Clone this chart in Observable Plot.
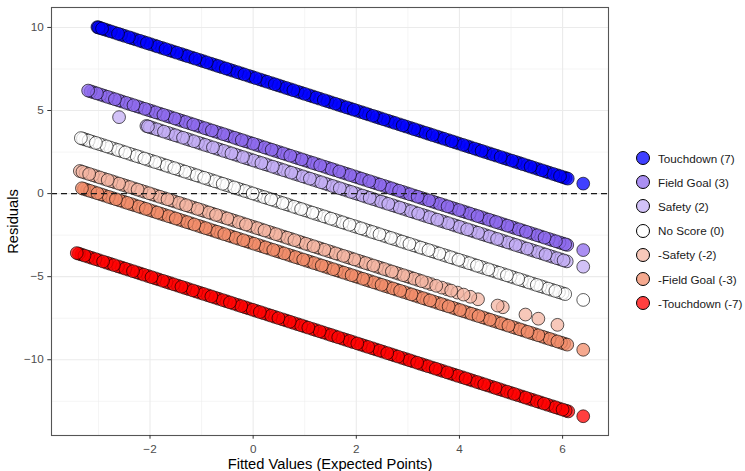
<!DOCTYPE html>
<html>
<head>
<meta charset="utf-8">
<script src="https://cdn.jsdelivr.net/npm/d3@7"></script>
<script src="https://cdn.jsdelivr.net/npm/@observablehq/plot@0.6"></script>
<style>
  html, body { margin: 0; padding: 0; background: white; }
  #wrap { position: relative; width: 745px; height: 471px; overflow: hidden; font-family: "Liberation Sans", Arial, sans-serif; }
  #chart { position: absolute; left: 0; top: 0; }
  #legend { position: absolute; left: 636px; top: 146px; }
  .item { display: flex; align-items: center; height: 24.2px; font-size: 11.7px; color: #1a1a1a; }
  .sw { width: 12px; height: 12px; border-radius: 50%; border: 1px solid #000; margin-right: 8px; box-sizing: content-box; }
</style>
</head>
<body>
<div id="wrap"><div id="chart"></div><div id="legend"></div></div>
<script>
// Outcome categories, their point values and colours
const categories = ["Touchdown (7)", "Field Goal (3)", "Safety (2)", "No Score (0)", "-Safety (-2)", "-Field Goal (-3)", "-Touchdown (-7)"];
const scores = [7, 3, 2, 0, -2, -3, -7];
const colors = ["#0000FF", "#8D69EE", "#C3ADF4", "#FFFFFF", "#F4B5A3", "#F18C69", "#FF0000"];

// Fitted values (expected points), one array per outcome
const fittedTouchdown = [-3.02,-3.00,-2.97,-2.93,-2.88,-2.82,-2.76,-2.69,-2.62,-2.56,-2.49,-2.41,-2.35,-2.28,-2.20,-2.13,-2.06,-1.99,-1.91,-1.85,-1.77,-1.70,-1.62,-1.55,-1.48,-1.40,-1.33,-1.27,-1.19,-1.12,-1.04,-0.97,-0.90,-0.82,-0.75,-0.68,-0.61,-0.53,-0.46,-0.39,-0.31,-0.24,-0.17,-0.09,-0.02,0.05,0.13,0.20,0.27,0.35,0.42,0.49,0.56,0.64,0.71,0.78,0.86,0.93,1.00,1.08,1.15,1.22,1.29,1.37,1.44,1.51,1.59,1.66,1.73,1.81,1.88,1.95,2.02,2.10,2.17,2.24,2.32,2.39,2.46,2.53,2.61,2.68,2.75,2.83,2.90,2.97,3.05,3.12,3.19,3.26,3.34,3.41,3.48,3.56,3.63,3.70,3.78,3.85,3.92,3.99,4.07,4.14,4.21,4.29,4.36,4.43,4.50,4.58,4.65,4.72,4.80,4.87,4.94,5.02,5.09,5.16,5.23,5.31,5.38,5.45,5.53,5.60,5.67,5.74,5.82,5.89,5.95,6.01,6.06,6.10,6.40];
const fittedFieldGoal = [-3.20,-3.15,-3.09,-3.03,-2.96,-2.89,-2.82,-2.75,-2.68,-2.61,-2.54,-2.46,-2.39,-2.32,-2.25,-2.18,-2.10,-2.03,-1.96,-1.89,-1.81,-1.74,-1.67,-1.60,-1.52,-1.45,-1.38,-1.31,-1.23,-1.16,-1.09,-1.02,-0.94,-0.87,-0.80,-0.73,-0.65,-0.58,-0.51,-0.44,-0.36,-0.29,-0.22,-0.15,-0.07,0.00,0.07,0.14,0.22,0.29,0.36,0.43,0.51,0.58,0.65,0.72,0.80,0.87,0.94,1.01,1.09,1.16,1.23,1.30,1.38,1.45,1.52,1.59,1.67,1.74,1.81,1.88,1.96,2.03,2.10,2.17,2.25,2.32,2.39,2.46,2.54,2.61,2.68,2.75,2.83,2.90,2.97,3.04,3.12,3.19,3.26,3.33,3.41,3.48,3.55,3.62,3.70,3.77,3.84,3.91,3.99,4.06,4.13,4.20,4.28,4.35,4.42,4.49,4.57,4.64,4.71,4.78,4.86,4.93,5.00,5.07,5.15,5.22,5.29,5.36,5.44,5.51,5.58,5.65,5.73,5.80,5.87,5.94,6.00,6.05,6.09,6.40];
const fittedSafety = [-2.60,-2.07,-2.04,-2.00,-1.94,-1.87,-1.80,-1.73,-1.65,-1.58,-1.51,-1.44,-1.36,-1.29,-1.22,-1.15,-1.07,-1.00,-0.93,-0.86,-0.78,-0.71,-0.64,-0.57,-0.49,-0.42,-0.35,-0.28,-0.20,-0.13,-0.06,0.01,0.09,0.16,0.23,0.30,0.38,0.45,0.52,0.59,0.67,0.74,0.81,0.88,0.96,1.03,1.10,1.17,1.25,1.32,1.39,1.46,1.54,1.61,1.68,1.75,1.83,1.90,1.97,2.04,2.12,2.19,2.26,2.33,2.41,2.48,2.55,2.62,2.70,2.77,2.84,2.91,2.99,3.06,3.13,3.20,3.28,3.35,3.42,3.49,3.57,3.64,3.71,3.78,3.86,3.93,4.00,4.07,4.15,4.22,4.29,4.36,4.44,4.51,4.58,4.65,4.73,4.80,4.87,4.94,5.02,5.09,5.16,5.23,5.31,5.38,5.45,5.52,5.60,5.67,5.74,5.81,5.89,5.96,6.02,6.08,6.40];
const fittedNoScore = [-3.34,-3.30,-3.25,-3.19,-3.12,-3.05,-2.98,-2.91,-2.84,-2.77,-2.69,-2.62,-2.55,-2.48,-2.40,-2.33,-2.26,-2.19,-2.11,-2.04,-1.97,-1.90,-1.82,-1.75,-1.68,-1.61,-1.53,-1.46,-1.39,-1.32,-1.24,-1.17,-1.10,-1.03,-0.95,-0.88,-0.81,-0.74,-0.66,-0.59,-0.52,-0.45,-0.37,-0.30,-0.23,-0.16,-0.08,-0.01,0.06,0.13,0.21,0.28,0.35,0.42,0.50,0.57,0.64,0.71,0.79,0.86,0.93,1.00,1.08,1.15,1.22,1.29,1.37,1.44,1.51,1.58,1.66,1.73,1.80,1.87,1.95,2.02,2.09,2.16,2.24,2.31,2.38,2.45,2.53,2.60,2.67,2.74,2.82,2.89,2.96,3.03,3.11,3.18,3.25,3.32,3.40,3.47,3.54,3.61,3.69,3.76,3.83,3.90,3.98,4.05,4.12,4.19,4.27,4.34,4.41,4.48,4.56,4.63,4.70,4.77,4.85,4.92,4.99,5.06,5.14,5.21,5.28,5.35,5.43,5.50,5.57,5.64,5.72,5.79,5.86,5.93,6.00,6.05,6.40];
const fittedOppSafety = [-3.36,-3.31,-3.25,-3.18,-3.11,-3.04,-2.97,-2.89,-2.82,-2.75,-2.68,-2.60,-2.53,-2.46,-2.39,-2.31,-2.24,-2.17,-2.10,-2.02,-1.95,-1.88,-1.81,-1.73,-1.66,-1.59,-1.52,-1.44,-1.37,-1.30,-1.23,-1.15,-1.08,-1.01,-0.94,-0.86,-0.79,-0.72,-0.65,-0.57,-0.50,-0.43,-0.36,-0.28,-0.21,-0.14,-0.07,0.01,0.08,0.15,0.22,0.30,0.37,0.44,0.51,0.59,0.66,0.73,0.80,0.88,0.95,1.02,1.09,1.17,1.24,1.31,1.38,1.46,1.53,1.60,1.67,1.75,1.82,1.89,1.96,2.04,2.11,2.18,2.25,2.33,2.40,2.47,2.54,2.62,2.69,2.76,2.83,2.91,2.98,3.05,3.12,3.20,3.27,3.36,3.45,3.55,3.66,3.76,3.84,3.96,4.08,4.21,4.36,4.74,4.84,5.28,5.53,5.90];
const fittedOppFieldGoal = [-3.32,-3.28,-3.22,-3.16,-3.09,-3.02,-2.95,-2.88,-2.80,-2.73,-2.66,-2.59,-2.51,-2.44,-2.37,-2.30,-2.22,-2.15,-2.08,-2.01,-1.93,-1.86,-1.79,-1.72,-1.64,-1.57,-1.50,-1.43,-1.35,-1.28,-1.21,-1.14,-1.06,-0.99,-0.92,-0.85,-0.77,-0.70,-0.63,-0.56,-0.48,-0.41,-0.34,-0.27,-0.19,-0.12,-0.05,0.02,0.10,0.17,0.24,0.31,0.39,0.46,0.53,0.60,0.68,0.75,0.82,0.89,0.97,1.04,1.11,1.18,1.26,1.33,1.40,1.47,1.55,1.62,1.69,1.76,1.84,1.91,1.98,2.05,2.13,2.20,2.27,2.34,2.42,2.49,2.56,2.63,2.71,2.78,2.85,2.92,3.00,3.07,3.14,3.21,3.29,3.36,3.43,3.50,3.58,3.65,3.72,3.79,3.87,3.94,4.01,4.08,4.16,4.23,4.30,4.37,4.45,4.52,4.59,4.66,4.74,4.81,4.88,4.95,5.03,5.10,5.17,5.24,5.32,5.39,5.46,5.53,5.61,5.68,5.75,5.82,5.90,5.97,6.03,6.09,6.40];
const fittedOppTouchdown = [-3.42,-3.38,-3.33,-3.27,-3.20,-3.13,-3.06,-2.99,-2.91,-2.84,-2.77,-2.70,-2.62,-2.55,-2.48,-2.41,-2.33,-2.26,-2.19,-2.12,-2.04,-1.97,-1.90,-1.83,-1.75,-1.68,-1.61,-1.54,-1.46,-1.39,-1.32,-1.25,-1.17,-1.10,-1.03,-0.96,-0.88,-0.81,-0.74,-0.67,-0.59,-0.52,-0.45,-0.38,-0.30,-0.23,-0.16,-0.09,-0.01,0.06,0.13,0.20,0.28,0.35,0.42,0.49,0.57,0.64,0.71,0.78,0.86,0.93,1.00,1.07,1.15,1.22,1.29,1.36,1.44,1.51,1.58,1.65,1.73,1.80,1.87,1.94,2.02,2.09,2.16,2.23,2.31,2.38,2.45,2.52,2.60,2.67,2.74,2.81,2.89,2.96,3.03,3.10,3.18,3.25,3.32,3.39,3.47,3.54,3.61,3.68,3.76,3.83,3.90,3.97,4.05,4.12,4.19,4.26,4.34,4.41,4.48,4.55,4.63,4.70,4.77,4.84,4.92,4.99,5.06,5.13,5.21,5.28,5.35,5.42,5.50,5.57,5.64,5.71,5.79,5.86,5.93,6.00,6.06,6.11,6.40];

const xTicks = [-2, 0, 2, 4, 6];
const yTicks = [-10, -5, 0, 5, 10];
const xMinor = [-3, -1, 1, 3, 5];
const yMinor = [-12.5, -7.5, -2.5, 2.5, 7.5];

const fittedByCategory = [fittedTouchdown, fittedFieldGoal, fittedSafety, fittedNoScore, fittedOppSafety, fittedOppFieldGoal, fittedOppTouchdown];

// residual = observed score − fitted value
const rows = [];
fittedByCategory.forEach((arr, i) => {
  arr.forEach(f => rows.push({cat: categories[i], fitted: f, resid: scores[i] - f}));
});
// mixed drawing order (plays are not sorted in the original data)
const drawRows = rows
  .map((d, i) => ({d, k: (i * 0.6180339887) % 1}))
  .sort((a, b) => a.k - b.k)
  .map(o => o.d);

const chart = Plot.plot({
  width: 615,
  height: 471,
  marginLeft: 51,
  marginRight: 7,
  marginTop: 7,
  marginBottom: 36,
  style: {fontFamily: "'Liberation Sans', Arial, sans-serif", background: "white", overflow: "visible"},
  x: {domain: [-3.91, 6.89]},
  y: {domain: [-14.56, 11.2]},
  color: {domain: categories, range: colors},
  marks: [
    Plot.gridX(xMinor, {stroke: "#ebebeb", strokeOpacity: 1, strokeWidth: 0.55}),
    Plot.gridY(yMinor, {stroke: "#ebebeb", strokeOpacity: 1, strokeWidth: 0.55}),
    Plot.gridX(xTicks, {stroke: "#ebebeb", strokeOpacity: 1, strokeWidth: 1.1}),
    Plot.gridY(yTicks, {stroke: "#ebebeb", strokeOpacity: 1, strokeWidth: 1.1}),
    Plot.dot(drawRows, {x: "fitted", y: "resid", fill: "cat", r: 6.4, fillOpacity: 0.75, stroke: "black", strokeOpacity: 0.8, strokeWidth: 0.8}),
    Plot.ruleY([0], {stroke: "#1a1a1a", strokeWidth: 1.1, strokeDasharray: "6,4"}),
    Plot.frame({stroke: "#555", strokeWidth: 1.1}),
    Plot.axisX({ticks: xTicks, tickSize: 3.7, tickPadding: 5, fontSize: 11.7, color: "#4d4d4d", stroke: "#333", label: null}),
    Plot.axisY({ticks: yTicks, tickSize: 3.7, tickPadding: 4, fontSize: 11.7, color: "#4d4d4d", stroke: "#333", label: null}),
    Plot.axisX({ticks: [], tickSize: 0, label: "Fitted Values (Expected Points)", labelAnchor: "center", labelArrow: "none", labelOffset: 33, fontSize: 14.7, color: "#000"}),
    Plot.axisY({ticks: [], tickSize: 0, label: "Residuals", labelAnchor: "center", labelArrow: "none", labelOffset: 44, fontSize: 14.7, color: "#000"})
  ]
});
document.getElementById("chart").appendChild(chart);

const legend = document.getElementById("legend");
categories.forEach((c, i) => {
  const item = document.createElement("div");
  item.className = "item";
  const sw = document.createElement("span");
  sw.className = "sw";
  sw.style.background = d3.color(colors[i]).copy({opacity: 0.75}).formatRgb();
  const t = document.createElement("span");
  t.textContent = c;
  item.appendChild(sw);
  item.appendChild(t);
  legend.appendChild(item);
});
</script>
</body>
</html>
